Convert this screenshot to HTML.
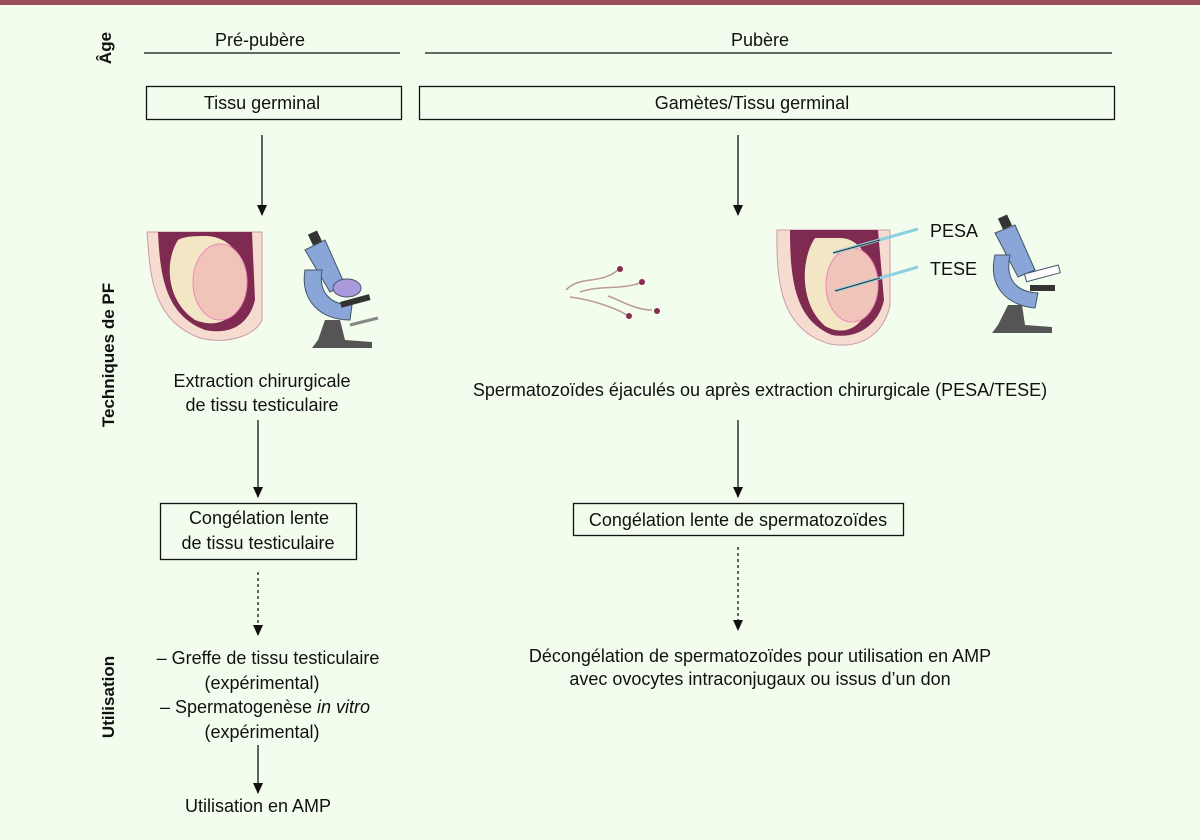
<!DOCTYPE html>
<html><head><meta charset="utf-8"><style>
html,body{margin:0;padding:0;background:#f2fdee;}
svg{display:block}
text{font-family:"Liberation Sans",sans-serif;font-size:18px;fill:#111}
.b{font-weight:bold;font-size:17px}
</style></head><body>
<svg width="1200" height="840" viewBox="0 0 1200 840" xmlns="http://www.w3.org/2000/svg">
<defs>
<marker id="a2" markerWidth="12" markerHeight="12" refX="5" refY="10" orient="0" markerUnits="userSpaceOnUse"><path d="M0,0 L10,0 L5,11 z" fill="#111"/></marker></defs>
<rect x="0" y="0" width="1200" height="5" fill="#9b4d5a"/>
<text class="b" transform="translate(111,48) rotate(-90)" text-anchor="middle">Âge</text>
<text class="b" transform="translate(114,355) rotate(-90)" text-anchor="middle">Techniques de PF</text>
<text class="b" transform="translate(114,697) rotate(-90)" text-anchor="middle">Utilisation</text>
<text x="260" y="46" text-anchor="middle">Pré-pubère</text>
<line x1="144" y1="53" x2="400" y2="53" stroke="#111" stroke-width="1.3"/>
<text x="760" y="46" text-anchor="middle">Pubère</text>
<line x1="425" y1="53" x2="1112" y2="53" stroke="#111" stroke-width="1.3"/>
<rect x="146.5" y="86.5" width="255" height="33" fill="none" stroke="#111" stroke-width="1.3"/>
<text x="262" y="109" text-anchor="middle">Tissu germinal</text>
<rect x="419.5" y="86.5" width="695" height="33" fill="none" stroke="#111" stroke-width="1.3"/>
<text x="752" y="109" text-anchor="middle">Gamètes/Tissu germinal</text>
<g stroke="#111" stroke-width="1.3">
<line x1="262" y1="135" x2="262" y2="215" marker-end="url(#a2)"/>
<line x1="738" y1="135" x2="738" y2="215" marker-end="url(#a2)"/>
<line x1="258" y1="420" x2="258" y2="497" marker-end="url(#a2)"/>
<line x1="738" y1="420" x2="738" y2="497" marker-end="url(#a2)"/>
<line x1="258" y1="572" x2="258" y2="635" stroke-dasharray="3,3" marker-end="url(#a2)"/>
<line x1="738" y1="547" x2="738" y2="630" stroke-dasharray="3,3" marker-end="url(#a2)"/>
<line x1="258" y1="745" x2="258" y2="793" marker-end="url(#a2)"/>
</g>
<!-- left testis -->
<g>
<path d="M147,232 C150,270 150,320 200,338 C230,345 255,335 262,320 L262,232 Z" fill="#f6dcd0" stroke="#c9a" stroke-width="1"/>
<path d="M158,232 C160,275 165,315 205,330 C235,336 250,320 255,300 L252,232 Z" fill="#7f2a50"/>
<path d="M178,240 C165,260 165,300 195,320 C225,332 245,310 244,280 C243,250 225,236 205,236 C195,236 185,236 178,240 Z" fill="#f3e6c4"/>
<ellipse cx="220" cy="282" rx="27" ry="38" fill="#f0c4b8" stroke="#e8b" stroke-width="1"/>
</g>
<!-- left microscope -->
<g>
<rect x="310" y="232" width="10" height="12" fill="#333" transform="rotate(-25 315 238)"/>
<path d="M305,250 L325,240 L345,285 L330,292 Z" fill="#8aa6d8" stroke="#456" stroke-width="1"/>
<path d="M305,270 C300,300 320,320 350,320 L352,305 C330,305 318,292 322,270 Z" fill="#8aa6d8" stroke="#456" stroke-width="1"/>
<ellipse cx="347" cy="288" rx="14" ry="9" fill="#a9d" stroke="#456"/>
<rect x="340" y="298" width="30" height="6" fill="#333" transform="rotate(-15 355 300)"/>
<path d="M325,320 L340,320 L345,340 L372,342 L372,348 L312,348 L318,340 Z" fill="#555"/>
<line x1="350" y1="325" x2="378" y2="318" stroke="#888" stroke-width="3"/>
</g>
<text x="262" y="387" text-anchor="middle">Extraction chirurgicale</text>
<text x="262" y="411" text-anchor="middle">de tissu testiculaire</text>
<!-- sperm -->
<g fill="none" stroke="#b99" stroke-width="1.5">
<path d="M566,290 C580,275 600,285 618,270"/>
<path d="M580,292 C600,285 620,290 640,283"/>
<path d="M570,297 C595,300 620,310 628,316"/>
<path d="M608,296 C620,300 635,310 652,310"/>
</g>
<g fill="#8a2a50"><circle cx="620" cy="269" r="3"/><circle cx="642" cy="282" r="3"/><circle cx="629" cy="316" r="3"/><circle cx="657" cy="311" r="3"/></g>
<!-- right testis -->
<g>
<path d="M777,230 C776,280 780,330 830,344 C865,350 885,330 890,305 L890,230 Z" fill="#f6dcd0" stroke="#c9a" stroke-width="1"/>
<path d="M790,230 C790,280 795,320 832,335 C862,340 880,320 884,300 L878,230 Z" fill="#7f2a50"/>
<path d="M815,238 C800,260 800,305 825,326 C850,340 870,320 872,290 C873,260 860,238 840,238 Z" fill="#f3e6c4"/>
<ellipse cx="852" cy="285" rx="26" ry="37" fill="#f0c4b8" stroke="#e8b" stroke-width="1"/>
<line x1="833" y1="253" x2="918" y2="229" stroke="#8fd0e0" stroke-width="3"/>
<line x1="833" y1="253" x2="880" y2="240" stroke="#333" stroke-width="1"/>
<line x1="835" y1="291" x2="918" y2="267" stroke="#8fd0e0" stroke-width="3"/>
<line x1="835" y1="291" x2="880" y2="278" stroke="#333" stroke-width="1"/>
</g>
<text x="930" y="237">PESA</text>
<text x="930" y="275">TESE</text>
<!-- right microscope -->
<g>
<rect x="1000" y="216" width="10" height="12" fill="#333" transform="rotate(-25 1005 222)"/>
<path d="M995,233 L1015,225 L1035,270 L1018,277 Z" fill="#8aa6d8" stroke="#456" stroke-width="1"/>
<path d="M995,255 C988,285 1005,305 1035,308 L1038,293 C1015,292 1005,278 1010,255 Z" fill="#8aa6d8" stroke="#456" stroke-width="1"/>
<rect x="1025" y="270" width="35" height="8" fill="#fff" stroke="#456" transform="rotate(-15 1040 274)"/>
<rect x="1030" y="285" width="25" height="6" fill="#333"/>
<path d="M1008,305 L1022,305 L1025,325 L1052,327 L1052,333 L992,333 L998,325 Z" fill="#555"/>
</g>
<text x="760" y="396" text-anchor="middle">Spermatozoïdes éjaculés ou après extraction chirurgicale (PESA/TESE)</text>
<rect x="160.5" y="503.5" width="196" height="56" fill="none" stroke="#111" stroke-width="1.3"/>
<text x="259" y="524" text-anchor="middle">Congélation lente</text>
<text x="258" y="549" text-anchor="middle">de tissu testiculaire</text>
<rect x="573.5" y="503.5" width="330" height="32" fill="none" stroke="#111" stroke-width="1.3"/>
<text x="738" y="526" text-anchor="middle">Congélation lente de spermatozoïdes</text>
<text x="268" y="664" text-anchor="middle">– Greffe de tissu testiculaire</text>
<text x="262" y="689" text-anchor="middle">(expérimental)</text>
<text x="265" y="713" text-anchor="middle">– Spermatogenèse <tspan font-style="italic">in vitro</tspan></text>
<text x="262" y="738" text-anchor="middle">(expérimental)</text>
<text x="258" y="812" text-anchor="middle">Utilisation en AMP</text>
<text x="760" y="662" text-anchor="middle">Décongélation de spermatozoïdes pour utilisation en AMP</text>
<text x="760" y="685" text-anchor="middle">avec ovocytes intraconjugaux ou issus d’un don</text>
</svg>
</body></html>
